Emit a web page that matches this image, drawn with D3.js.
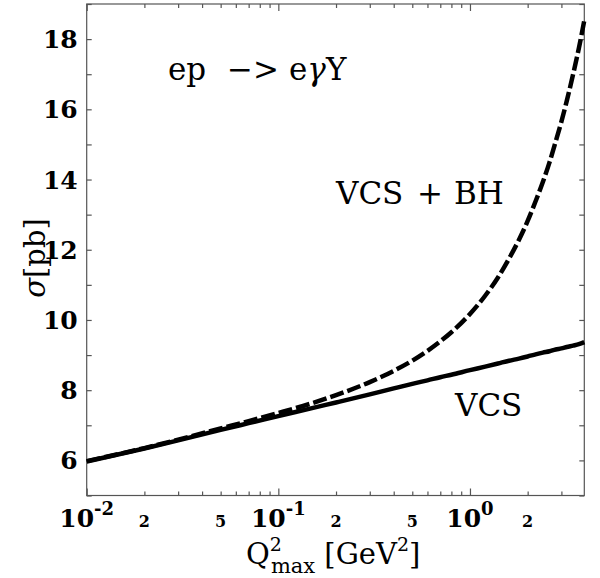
<!DOCTYPE html>
<html>
<head>
<meta charset="utf-8">
<script src="https://cdn.jsdelivr.net/npm/d3@7"></script>
<style>
  body { margin: 0; background: #fff; }
  svg { display: block; }
  .frame { fill: none; stroke: #555; stroke-width: 1.2; }
  .axis path.domain { display: none; }
  .axis line { stroke: #555; stroke-width: 1.2; }
  .tick-label { font-family: 'DejaVu Serif', serif; font-weight: bold; fill: #000; }
  .note { font-family: 'DejaVu Serif', serif; font-size: 31px; fill: #000; }
</style>
</head>
<body>
<svg id="chart"></svg>
<script>
const q2Max = [0.01, 0.02, 0.03, 0.05, 0.07, 0.1, 0.15, 0.2, 0.3, 0.4, 0.5, 0.6, 0.7, 0.8,
               1.0, 1.2, 1.4, 1.6, 1.8, 2.0, 2.2, 2.4, 2.6, 2.8, 3.0, 3.2, 3.45, 3.7, 3.95];
// sigma [pb], VCS only (solid)
const sigmaVcs = [5.97, 6.34, 6.57, 6.87, 7.06, 7.26, 7.49, 7.65, 7.88, 8.05, 8.18, 8.28, 8.37, 8.44,
                  8.57, 8.67, 8.76, 8.84, 8.90, 8.96, 9.02, 9.07, 9.11, 9.16, 9.19, 9.23, 9.27, 9.31, 9.37];
// sigma [pb], VCS + BH (dashed)
const sigmaVcsBh = [5.98, 6.35, 6.59, 6.91, 7.12, 7.35, 7.63, 7.86, 8.23, 8.55, 8.84, 9.12, 9.39, 9.65,
                    10.17, 10.69, 11.21, 11.75, 12.28, 12.82, 13.38, 13.93, 14.49, 15.08, 15.65, 16.24, 16.99, 17.74, 18.53];

// axis ticks and labels
const yTicks = [5, 6, 7, 8, 9, 10, 11, 12, 13, 14, 15, 16, 17, 18, 19];
const yTickLabels = [6, 8, 10, 12, 14, 16, 18];
const xMajorTicks = [0.01, 0.1, 1];
const xMajorExponents = ['-2', '-1', '0'];
const xMinorTicks = [0.02, 0.03, 0.04, 0.05, 0.06, 0.07, 0.08, 0.09,
                     0.2, 0.3, 0.4, 0.5, 0.6, 0.7, 0.8, 0.9, 2, 3];
const xMinorLabelTicks = [0.02, 0.05, 0.2, 0.5, 2];
const xMinorLabels = ['2', '5', '2', '5', '2'];

class SigmaChart {

  constructor(_config) {
    this.config = {
      parentElement: _config.parentElement,
      containerWidth: _config.containerWidth || 600,
      containerHeight: _config.containerHeight || 578,
      margin: _config.margin || {top: 4, right: 15.7, bottom: 82.5, left: 86.7}
    }
    this.initVis();
  }

  initVis() {
    let vis = this;

    vis.width = vis.config.containerWidth - vis.config.margin.left - vis.config.margin.right;
    vis.height = vis.config.containerHeight - vis.config.margin.top - vis.config.margin.bottom;

    vis.xScale = d3.scaleLog()
        .domain([0.01, 3.95])
        .range([0, vis.width]);

    vis.yScale = d3.scaleLinear()
        .domain([5, 19])
        .range([vis.height, 0]);

    vis.svg = d3.select(vis.config.parentElement)
        .attr('width', vis.config.containerWidth)
        .attr('height', vis.config.containerHeight);

    vis.chart = vis.svg.append('g')
        .attr('transform', `translate(${vis.config.margin.left},${vis.config.margin.top})`);
  }

  renderVis() {
    let vis = this;

    // Ticks point inward on all four sides
    const yLeft = d3.axisLeft(vis.yScale).tickValues(yTicks).tickSize(-5).tickFormat('');
    const yRight = d3.axisRight(vis.yScale).tickValues(yTicks).tickSize(-5).tickFormat('');
    vis.chart.append('g').attr('class', 'axis').call(yLeft);
    vis.chart.append('g').attr('class', 'axis')
        .attr('transform', `translate(${vis.width},0)`).call(yRight);

    const xMajB = d3.axisBottom(vis.xScale).tickValues(xMajorTicks).tickSize(-7).tickFormat('');
    const xMinB = d3.axisBottom(vis.xScale).tickValues(xMinorTicks).tickSize(-4).tickFormat('');
    const xMajT = d3.axisTop(vis.xScale).tickValues(xMajorTicks).tickSize(-7).tickFormat('');
    const xMinT = d3.axisTop(vis.xScale).tickValues(xMinorTicks).tickSize(-4).tickFormat('');
    vis.chart.append('g').attr('class', 'axis').attr('transform', `translate(0,${vis.height})`).call(xMajB);
    vis.chart.append('g').attr('class', 'axis').attr('transform', `translate(0,${vis.height})`).call(xMinB);
    vis.chart.append('g').attr('class', 'axis').call(xMajT);
    vis.chart.append('g').attr('class', 'axis').call(xMinT);

    vis.chart.append('rect')
        .attr('class', 'frame')
        .attr('width', vis.width)
        .attr('height', vis.height);

    // y tick labels
    vis.chart.selectAll('.y-label')
        .data(yTickLabels)
      .join('text')
        .attr('class', 'tick-label y-label')
        .attr('x', -9)
        .attr('y', d => vis.yScale(d))
        .attr('dy', '0.36em')
        .attr('text-anchor', 'end')
        .style('font-size', '25px')
        .text(d => d);

    // x decade labels with superscript exponents
    const major = vis.chart.selectAll('.x-major')
        .data(xMajorTicks)
      .join('text')
        .attr('class', 'tick-label x-major')
        .attr('x', d => vis.xScale(d))
        .attr('y', vis.height + 31)
        .attr('text-anchor', 'middle')
        .style('font-size', '25px');
    major.append('tspan').text('10');
    major.append('tspan')
        .attr('dy', -12)
        .style('font-size', '18px')
        .text((d, i) => xMajorExponents[i]);

    vis.chart.selectAll('.x-minor')
        .data(xMinorLabelTicks)
      .join('text')
        .attr('class', 'tick-label x-minor')
        .attr('x', d => vis.xScale(d))
        .attr('y', vis.height + 31)
        .attr('text-anchor', 'middle')
        .style('font-size', '16px')
        .text((d, i) => xMinorLabels[i]);

    // Curves
    const line = (ys) => d3.line()
        .x((d, i) => vis.xScale(q2Max[i]))
        .y((d, i) => vis.yScale(ys[i]))
        .curve(d3.curveMonotoneX)(ys);

    vis.chart.append('path')
        .attr('d', line(sigmaVcs))
        .attr('fill', 'none')
        .attr('stroke', '#000')
        .attr('stroke-width', 4.5);

    vis.chart.append('path')
        .attr('d', line(sigmaVcsBh))
        .attr('fill', 'none')
        .attr('stroke', '#000')
        .attr('stroke-width', 4.5)
        .attr('stroke-dasharray', '14,4');

    // Annotations (wide word spacing as in the original)
    const title = vis.svg.append('text')
        .attr('class', 'note')
        .attr('y', 80);
    title.append('tspan').attr('x', 168).text('ep');
    title.append('tspan').attr('x', 227).text('−>');
    title.append('tspan').attr('x', 289).text('e');
    title.append('tspan').style('font-style', 'italic').text('γ');
    title.append('tspan').text('Y');

    const bh = vis.svg.append('text')
        .attr('class', 'note')
        .attr('y', 204);
    bh.append('tspan').attr('x', 336).text('VCS');
    bh.append('tspan').attr('x', 417).text('+');
    bh.append('tspan').attr('x', 454).text('BH');

    vis.svg.append('text')
        .attr('class', 'note')
        .attr('x', 455)
        .attr('y', 416)
        .text('VCS');

    // Axis titles
    const xt = vis.svg.append('text')
        .attr('class', 'note')
        .attr('x', 246)
        .attr('y', 564)
        .style('font-size', '29px');
    xt.append('tspan').text('Q');
    xt.append('tspan').attr('dy', -13).style('font-size', '19px').text('2');
    xt.append('tspan').attr('dy', 22).attr('dx', -11).style('font-size', '21px').text('max');
    xt.append('tspan').attr('dy', -9).text(' [GeV');
    xt.append('tspan').attr('dy', -13).style('font-size', '19px').text('2');
    xt.append('tspan').attr('dy', 13).text(']');

    const yt = vis.svg.append('text')
        .attr('class', 'note')
        .attr('transform', 'translate(45,258) rotate(-90)')
        .attr('text-anchor', 'middle')
        .style('font-size', '29px');
    yt.append('tspan').style('font-style', 'italic').text('σ');
    yt.append('tspan').text('[pb]');
  }
}

const chart = new SigmaChart({parentElement: '#chart'});
chart.renderVis();
</script>
</body>
</html>
